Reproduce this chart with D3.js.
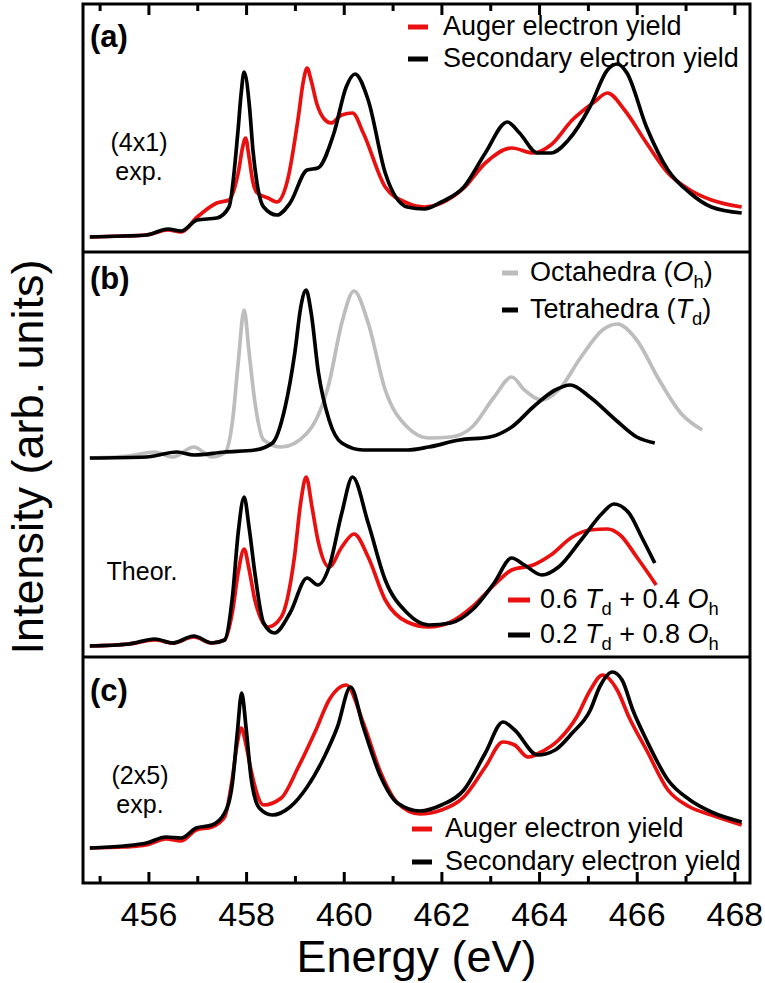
<!DOCTYPE html>
<html>
<head>
<meta charset="utf-8">
<title>XAS panels</title>
<script src="https://cdn.jsdelivr.net/npm/d3@7"></script>
<style>
body { margin: 0; background: #fff; }
text { font-family: "Liberation Sans", Arial, sans-serif; fill: #000; }
</style>
</head>
<body>
<svg id="chart" width="765" height="983"></svg>
<script>
// [energy (eV), intensity (arb.)]
var sey4x1 = [[454.8,0.15],[455.5,0.16],[455.96,0.17],[456.4,0.23],[456.67,0.21],[457.0,0.32],[457.4,0.34],[457.65,0.45],[457.83,1.19],[457.9,1.59],[457.96,1.80],[458.07,1.45],[458.14,1.02],[458.22,0.70],[458.36,0.45],[458.63,0.37],[458.9,0.49],[459.25,0.82],[459.47,0.84],[459.8,1.19],[460.05,1.65],[460.23,1.78],[460.5,1.52],[460.85,0.79],[461.3,0.45],[461.65,0.43],[462.0,0.50],[462.46,0.65],[462.9,0.99],[463.35,1.30],[463.6,1.19],[463.97,0.99],[464.24,0.99],[464.6,1.12],[465.04,1.45],[465.4,1.82],[465.6,1.88],[465.8,1.79],[466.2,1.25],[466.64,0.82],[467.09,0.59],[467.53,0.45],[468.15,0.39]];
var aey4x1 = [[454.8,0.15],[455.5,0.16],[455.96,0.17],[456.4,0.22],[456.67,0.20],[457.0,0.35],[457.4,0.49],[457.65,0.52],[457.85,0.82],[457.93,1.05],[457.99,1.14],[458.06,0.95],[458.14,0.70],[458.23,0.59],[458.45,0.54],[458.63,0.50],[458.85,0.72],[459.07,1.35],[459.17,1.70],[459.25,1.84],[459.33,1.72],[459.45,1.48],[459.6,1.33],[459.74,1.29],[459.96,1.37],[460.18,1.39],[460.4,1.19],[460.85,0.65],[461.3,0.49],[461.65,0.45],[462.0,0.49],[462.46,0.64],[462.9,0.89],[463.44,1.04],[463.88,0.99],[464.24,1.07],[464.68,1.32],[465.13,1.50],[465.4,1.59],[465.75,1.42],[466.2,1.09],[466.64,0.79],[467.09,0.62],[467.53,0.52],[468.15,0.45]];

var octa = [[454.8,1.99],[455.6,2.01],[456.13,2.05],[456.5,2.00],[456.93,2.10],[457.3,2.00],[457.56,2.04],[457.72,2.35],[457.84,2.95],[457.96,3.47],[458.06,3.05],[458.18,2.55],[458.36,2.17],[458.72,2.10],[459.25,2.24],[459.7,2.74],[459.96,3.34],[460.21,3.66],[460.5,3.34],[460.85,2.67],[461.3,2.30],[461.74,2.19],[462.19,2.20],[462.63,2.30],[463.08,2.60],[463.44,2.80],[463.7,2.67],[464.06,2.57],[464.4,2.67],[464.86,3.00],[465.3,3.27],[465.6,3.33],[466.0,3.17],[466.46,2.77],[466.9,2.44],[467.34,2.27]];
var tetra = [[454.8,1.99],[455.96,2.00],[456.58,2.05],[456.93,2.02],[457.56,2.05],[458.18,2.07],[458.54,2.14],[458.8,2.50],[459.0,3.05],[459.12,3.50],[459.23,3.67],[459.33,3.45],[459.48,2.85],[459.7,2.37],[459.96,2.14],[460.4,2.07],[461.3,2.07],[461.74,2.10],[462.37,2.17],[462.99,2.20],[463.44,2.30],[463.88,2.50],[464.33,2.67],[464.64,2.72],[465.04,2.60],[465.57,2.37],[466.0,2.20],[466.37,2.14]];
var mix06 = [[454.8,0.11],[455.6,0.13],[456.13,0.17],[456.5,0.14],[456.93,0.20],[457.3,0.14],[457.56,0.17],[457.72,0.45],[457.84,0.85],[457.96,1.08],[458.06,0.88],[458.18,0.57],[458.45,0.30],[458.72,0.40],[458.99,1.00],[459.12,1.55],[459.23,1.80],[459.35,1.50],[459.47,1.17],[459.7,0.90],[459.96,1.10],[460.21,1.23],[460.5,1.00],[460.85,0.57],[461.3,0.35],[461.74,0.30],[462.19,0.35],[462.63,0.50],[463.08,0.72],[463.44,0.87],[463.88,0.92],[464.24,1.02],[464.68,1.20],[465.04,1.27],[465.4,1.28],[465.66,1.22],[466.0,1.00],[466.4,0.72]];
var mix02 = [[454.8,0.11],[455.6,0.13],[456.13,0.18],[456.5,0.14],[456.93,0.21],[457.3,0.14],[457.56,0.17],[457.72,0.60],[457.84,1.25],[457.96,1.60],[458.06,1.30],[458.18,0.84],[458.36,0.34],[458.58,0.24],[458.9,0.44],[459.25,0.79],[459.47,0.72],[459.7,0.90],[459.96,1.44],[460.18,1.80],[460.5,1.34],[460.85,0.77],[461.3,0.44],[461.74,0.32],[462.19,0.34],[462.63,0.47],[463.08,0.74],[463.44,0.99],[463.7,0.92],[464.06,0.82],[464.4,0.90],[464.86,1.17],[465.3,1.44],[465.53,1.53],[465.84,1.44],[466.1,1.20],[466.37,0.94]];

var sey2x5 = [[454.8,0.35],[455.5,0.37],[455.96,0.40],[456.36,0.46],[456.67,0.45],[456.98,0.55],[457.3,0.58],[457.56,0.70],[457.72,1.00],[457.82,1.50],[457.91,1.90],[458.0,1.55],[458.1,1.06],[458.27,0.75],[458.54,0.68],[458.9,0.76],[459.25,0.96],[459.6,1.26],[459.87,1.56],[460.14,1.96],[460.4,1.56],[460.76,1.06],[461.1,0.80],[461.56,0.72],[462.0,0.78],[462.46,0.93],[462.9,1.30],[463.26,1.61],[463.5,1.53],[463.97,1.28],[464.33,1.33],[464.68,1.50],[465.04,1.72],[465.25,1.97],[465.5,2.11],[465.7,2.03],[465.92,1.73],[466.2,1.43],[466.64,1.03],[467.09,0.83],[467.53,0.71],[468.15,0.61]];
var aey2x5 = [[454.8,0.35],[455.5,0.36],[455.96,0.38],[456.36,0.44],[456.67,0.42],[456.98,0.53],[457.3,0.56],[457.56,0.66],[457.72,1.05],[457.82,1.40],[457.9,1.55],[458.0,1.38],[458.1,1.13],[458.36,0.78],[458.72,0.85],[459.07,1.16],[459.43,1.53],[459.7,1.83],[460.05,1.98],[460.4,1.60],[460.76,1.10],[461.1,0.80],[461.56,0.69],[462.0,0.73],[462.46,0.86],[462.9,1.16],[463.26,1.41],[463.5,1.38],[463.77,1.26],[464.0,1.30],[464.4,1.43],[464.77,1.66],[465.05,1.93],[465.3,2.08],[465.6,1.93],[465.84,1.66],[466.2,1.33],[466.64,0.93],[467.09,0.76],[467.53,0.68],[468.15,0.58]];

var majorTicks = [456, 458, 460, 462, 464, 466, 468];
var minorTicks = [455, 457, 459, 461, 463, 465, 467];

var RED = "#ea1010", GRAY = "#bdbdbd";

var svg = d3.select("#chart");
var L = 83, R = 750, T = 4, B = 883;

var x = d3.scaleLinear().domain([454.66, 468.32]).range([L, R]);

// one y scale per panel
var panels = [
    { top: T,   bottom: 252, max: 2.48 },
    { top: 252, bottom: 657, max: 4.05 },
    { top: 657, bottom: B,   max: 2.26 }
];
panels.forEach(function(p) {
    p.y = d3.scaleLinear().domain([0, p.max]).range([p.bottom, p.top]);
});

function drawLine(data, p, color) {
    var line = d3.line()
        .x(function(d) { return x(d[0]); })
        .y(function(d) { return p.y(d[1]); })
        .curve(d3.curveMonotoneX);
    svg.append("path")
        .datum(data)
        .attr("fill", "none")
        .attr("stroke", color)
        .attr("stroke-width", 3.7)
        .attr("stroke-linejoin", "round")
        .attr("d", line);
}

drawLine(aey4x1, panels[0], RED);
drawLine(sey4x1, panels[0], "#000");
drawLine(octa, panels[1], GRAY);
drawLine(tetra, panels[1], "#000");
drawLine(mix06, panels[1], RED);
drawLine(mix02, panels[1], "#000");
drawLine(aey2x5, panels[2], RED);
drawLine(sey2x5, panels[2], "#000");

// frame + separators
svg.append("rect")
    .attr("x", L).attr("y", T).attr("width", R - L).attr("height", B - T)
    .attr("fill", "none").attr("stroke", "#000").attr("stroke-width", 3);
[252, 657].forEach(function(yy) {
    svg.append("line").attr("x1", L).attr("x2", R).attr("y1", yy).attr("y2", yy)
        .attr("stroke", "#000").attr("stroke-width", 3);
});

// ticks, bottom (inward) and top (inward)
var bottomMajor = svg.append("g").attr("transform", "translate(0," + B + ")")
    .call(d3.axisBottom(x).tickValues(majorTicks).tickSize(-11).tickPadding(18).tickFormat(d3.format("d")));
var bottomMinor = svg.append("g").attr("transform", "translate(0," + B + ")")
    .call(d3.axisBottom(x).tickValues(minorTicks).tickSize(-7).tickFormat(""));
var topMajor = svg.append("g").attr("transform", "translate(0," + T + ")")
    .call(d3.axisTop(x).tickValues(majorTicks).tickSize(-11).tickFormat(""));
var topMinor = svg.append("g").attr("transform", "translate(0," + T + ")")
    .call(d3.axisTop(x).tickValues(minorTicks).tickSize(-7).tickFormat(""));
[bottomMajor, bottomMinor, topMajor, topMinor].forEach(function(g) {
    g.select(".domain").remove();
    g.selectAll(".tick line").attr("stroke", "#000").attr("stroke-width", 3);
});
bottomMajor.selectAll(".tick text")
    .attr("font-size", 34).attr("font-family", "Liberation Sans, Arial, sans-serif")
    .attr("fill", "#000").attr("y", 43).attr("dy", 0);

// axis titles
svg.append("text").attr("x", (L + R) / 2).attr("y", 972)
    .attr("text-anchor", "middle").attr("font-size", 45).text("Energy (eV)");
svg.append("text").attr("transform", "translate(43,457) rotate(-90)")
    .attr("text-anchor", "middle").attr("font-size", 45).text("Intensity (arb. units)");

// panel letters
[["(a)", 47], ["(b)", 289], ["(c)", 701]].forEach(function(t) {
    svg.append("text").attr("x", 90).attr("y", t[1])
        .attr("font-size", 31).attr("font-weight", "bold").text(t[0]);
});

// side notes
function note(lines, xx, yy, gap) {
    lines.forEach(function(s, i) {
        svg.append("text").attr("x", xx).attr("y", yy + i * gap)
            .attr("text-anchor", "middle").attr("font-size", 25).text(s);
    });
}
note(["(4x1)", "exp."], 139, 151, 29);
note(["Theor."], 142, 580, 0);
note(["(2x5)", "exp."], 140, 784, 29);

// rich legend text: parts = [text, "i" italic | "s" subscript | ""]
function richText(parts, xx, yy, size) {
    var t = svg.append("text").attr("x", xx).attr("y", yy).attr("font-size", size);
    var sub = false;
    parts.forEach(function(p) {
        var ts = t.append("tspan").text(p[0]);
        if (p[1] === "i") ts.attr("font-style", "italic");
        if (p[1] === "s") { ts.attr("font-size", size * 0.68).attr("dy", 7); sub = true; }
        else if (sub) { ts.attr("dy", -7); sub = false; }
    });
}

function legend(items, x0, x1, tx, y0, gap, size) {
    items.forEach(function(it, i) {
        var yy = y0 + i * gap;
        svg.append("line").attr("x1", x0).attr("x2", x1).attr("y1", yy).attr("y2", yy)
            .attr("stroke", it.color).attr("stroke-width", 5);
        richText(it.parts, tx, yy + 8, size);
    });
}

legend([
    { color: RED, parts: [["Auger electron yield", ""]] },
    { color: "#000", parts: [["Secondary electron yield", ""]] }
], 408, 428, 443, 27, 32, 27);

legend([
    { color: GRAY, parts: [["Octahedra (", ""], ["O", "i"], ["h", "s"], [")", ""]] },
    { color: "#000", parts: [["Tetrahedra (", ""], ["T", "i"], ["d", "s"], [")", ""]] }
], 502, 518, 530, 273, 37, 27);

legend([
    { color: RED, parts: [["0.6 ", ""], ["T", "i"], ["d", "s"], [" + 0.4 ", ""], ["O", "i"], ["h", "s"]] },
    { color: "#000", parts: [["0.2 ", ""], ["T", "i"], ["d", "s"], [" + 0.8 ", ""], ["O", "i"], ["h", "s"]] }
], 508, 530, 540, 600, 35, 27);

legend([
    { color: RED, parts: [["Auger electron yield", ""]] },
    { color: "#000", parts: [["Secondary electron yield", ""]] }
], 412, 432, 445, 829, 33, 27);
</script>
</body>
</html>
